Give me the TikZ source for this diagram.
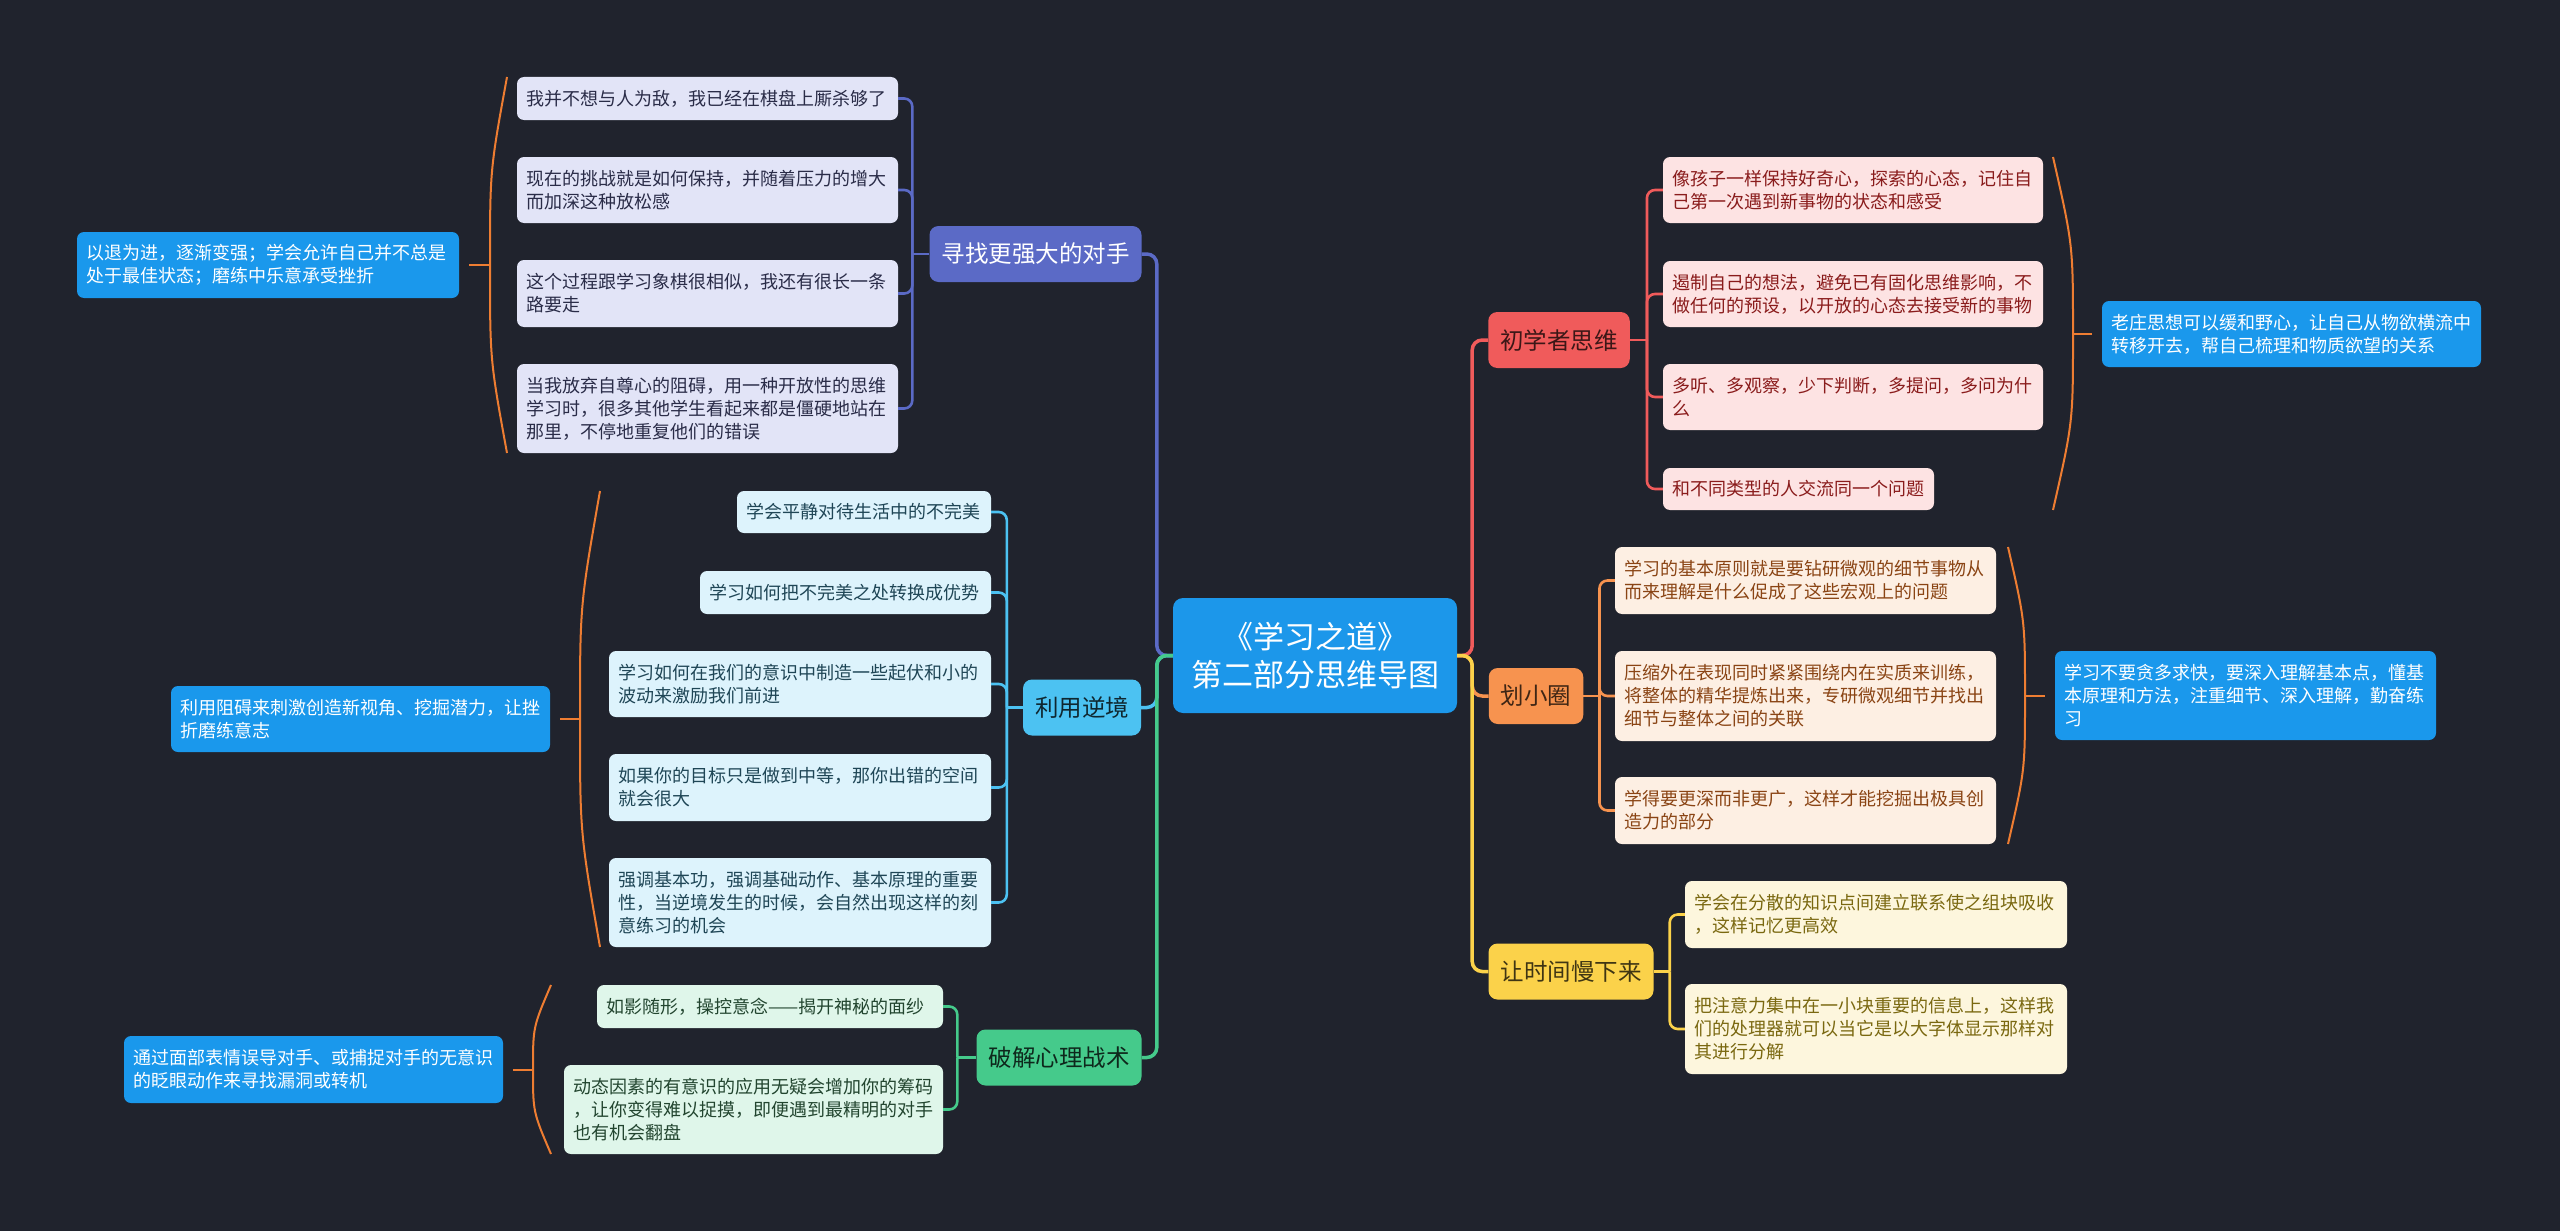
\documentclass[tikz,border=0pt]{standalone}
\usepackage{fontspec}
\newfontfamily\cjk{Noto Sans CJK SC}
\usetikzlibrary{calc}
\definecolor{bg}{HTML}{20232D}
\definecolor{mainblue}{HTML}{1C97EA}
\definecolor{sumblue}{HTML}{1A98EC}
\definecolor{indigo}{HTML}{5B6AC6}
\definecolor{sky}{HTML}{4CC2F2}
\definecolor{mint}{HTML}{45CA8B}
\definecolor{coral}{HTML}{F05B5B}
\definecolor{tang}{HTML}{F7934F}
\definecolor{gold}{HTML}{FBD24A}
\definecolor{braceor}{HTML}{EE7D32}
\definecolor{fA}{HTML}{E2E4F7}\definecolor{tA}{HTML}{2A2C48}
\definecolor{fB}{HTML}{DDF3FC}\definecolor{tB}{HTML}{1F4656}
\definecolor{fC}{HTML}{DFF6EA}\definecolor{tC}{HTML}{22452F}
\definecolor{fD}{HTML}{FDE3E3}\definecolor{tD}{HTML}{8A1C1C}
\definecolor{fE}{HTML}{FDEFE3}\definecolor{tE}{HTML}{8A4414}
\definecolor{fF}{HTML}{FDF6DD}\definecolor{tF}{HTML}{7A6810}
\begin{document}
\begin{tikzpicture}[x=1pt,y=-1pt,
  box/.style={rounded corners=7pt, inner xsep=9pt, inner ysep=0pt, align=left, font=\cjk\fontsize{18}{23}\selectfont},
  leafA/.style={box, fill=fA, text=tA},
  leafB/.style={box, fill=fB, text=tB},
  leafC/.style={box, fill=fC, text=tC},
  leafD/.style={box, fill=fD, text=tD},
  leafE/.style={box, fill=fE, text=tE},
  leafF/.style={box, fill=fF, text=tF},
  summ/.style={box, fill=sumblue, text=white},
  topic/.style={rounded corners=9pt, inner xsep=12pt, inner ysep=0pt, minimum height=56pt, font=\cjk\fontsize{23.5}{28}\selectfont},
  root/.style={rounded corners=10pt, fill=mainblue, text=white, align=center, minimum width=284pt, minimum height=115pt, inner sep=0pt, font=\cjk\fontsize{31}{38}\selectfont},
  trunk/.style={line width=3.5pt, rounded corners=10pt},
  twig/.style={line width=2.6pt, rounded corners=8pt},
  brace/.style={draw=braceor, line width=2pt},
]
\fill[bg] (0,0) rectangle (2560,1231);
\useasboundingbox (0,0) rectangle (2560,1231);

% root
\node[root] (C) at (1315,655.5) {《学习之道》\\第二部分思维导图};

% topics
\node[topic, fill=indigo, text=white, minimum width=209pt] (T1) at (1035.5,254) {寻找更强大的对手};
\node[topic, fill=sky, text=black!80!sky, minimum width=116pt] (T2) at (1082,707.5) {利用逆境};
\node[topic, fill=mint, text=black!80!mint, minimum width=162pt] (T3) at (1059,1057.5) {破解心理战术};
\node[topic, fill=coral, text=black!75!coral, minimum width=140pt] (T4) at (1559,340) {初学者思维};
\node[topic, fill=tang, text=black!75!tang, minimum width=94pt] (T5) at (1536,696) {划小圈};
\node[topic, fill=gold, text=black!75!gold, minimum width=164pt] (T6) at (1571,971.5) {让时间慢下来};

% T1 leaves
\node[leafA, text width=363pt, minimum height=43pt] (a1) at (707.5,98.5) {我并不想与人为敌，我已经在棋盘上厮杀够了};
\node[leafA, text width=363pt, minimum height=66pt] (a2) at (707.5,190) {现在的挑战就是如何保持，并随着压力的增大\\而加深这种放松感};
\node[leafA, text width=363pt, minimum height=67pt] (a3) at (707.5,293.5) {这个过程跟学习象棋很相似，我还有很长一条\\路要走};
\node[leafA, text width=363pt, minimum height=89pt] (a4) at (707.5,408.5) {当我放弃自尊心的阻碍，用一种开放性的思维\\学习时，很多其他学生看起来都是僵硬地站在\\那里，不停地重复他们的错误};

% T2 leaves
\node[leafB, text width=236pt, minimum height=42pt] (b1) at (864,512) {学会平静对待生活中的不完美};
\node[leafB, text width=273pt, minimum height=43pt] (b2) at (845.5,592.5) {学习如何把不完美之处转换成优势};
\node[leafB, text width=364pt, minimum height=66pt] (b3) at (800,684) {学习如何在我们的意识中制造一些起伏和小的\\波动来激励我们前进};
\node[leafB, text width=364pt, minimum height=67pt] (b4) at (800,787.5) {如果你的目标只是做到中等，那你出错的空间\\就会很大};
\node[leafB, text width=364pt, minimum height=89pt] (b5) at (800,902.5) {强调基本功，强调基础动作、基本原理的重要\\性，当逆境发生的时候，会自然出现这样的刻\\意练习的机会};

% T3 leaves
\node[leafC, text width=328pt, minimum height=43pt] (e1) at (770,1006.5) {如影随形，操控意念——揭开神秘的面纱};
\node[leafC, text width=361pt, minimum height=89pt] (e2) at (753.5,1109.5) {动态因素的有意识的应用无疑会增加你的筹码\\，让你变得难以捉摸，即便遇到最精明的对手\\也有机会翻盘};

% T4 leaves
\node[leafD, text width=362pt, minimum height=66pt] (f1) at (1853,190) {像孩子一样保持好奇心，探索的心态，记住自\\己第一次遇到新事物的状态和感受};
\node[leafD, text width=362pt, minimum height=66pt] (f2) at (1853,294) {遏制自己的想法，避免已有固化思维影响，不\\做任何的预设，以开放的心态去接受新的事物};
\node[leafD, text width=362pt, minimum height=66pt] (f3) at (1853,397) {多听、多观察，少下判断，多提问，多问为什\\么};
\node[leafD, text width=253pt, minimum height=42pt] (f4) at (1798.5,489) {和不同类型的人交流同一个问题};

% T5 leaves
\node[leafE, text width=363pt, minimum height=67pt] (g1) at (1805.5,580.5) {学习的基本原则就是要钻研微观的细节事物从\\而来理解是什么促成了这些宏观上的问题};
\node[leafE, text width=363pt, minimum height=90pt] (g2) at (1805.5,696) {压缩外在表现同时紧紧围绕内在实质来训练，\\将整体的精华提炼出来，专研微观细节并找出\\细节与整体之间的关联};
\node[leafE, text width=363pt, minimum height=67pt] (g3) at (1805.5,810.5) {学得要更深而非更广，这样才能挖掘出极具创\\造力的部分};

% T6 leaves
\node[leafF, text width=364pt, minimum height=67pt] (h1) at (1876,914.5) {学会在分散的知识点间建立联系使之组块吸收\\，这样记忆更高效};
\node[leafF, text width=364pt, minimum height=90pt] (h2) at (1876,1029) {把注意力集中在一小块重要的信息上，这样我\\们的处理器就可以当它是以大字体显示那样对\\其进行分解};

% summaries
\node[summ, text width=364pt, minimum height=66pt] (S1) at (268,265) {以退为进，逐渐变强；学会允许自己并不总是\\处于最佳状态；磨练中乐意承受挫折};
\node[summ, text width=361pt, minimum height=66pt] (S2) at (360.5,719) {利用阻碍来刺激创造新视角、挖掘潜力，让挫\\折磨练意志};
\node[summ, text width=361pt, minimum height=67pt] (S3) at (313.5,1069.5) {通过面部表情误导对手、或捕捉对手的无意识\\的眨眼动作来寻找漏洞或转机};
\node[summ, text width=361pt, minimum height=66pt] (S4) at (2291.5,334) {老庄思想可以缓和野心，让自己从物欲横流中\\转移开去，帮自己梳理和物质欲望的关系};
\node[summ, text width=363pt, minimum height=89pt] (S5) at (2245.5,695.5) {学习不要贪多求快，要深入理解基本点，懂基\\本原理和方法，注重细节、深入理解，勤奋练\\习};

% root to topics
\draw[trunk, indigo] (C.west) -- ++(-16,0) |- (T1.east);
\draw[trunk, sky] (C.west) -- ++(-16,0) |- (T2.east);
\draw[trunk, mint] (C.west) -- ++(-16,0) |- (T3.east);
\draw[trunk, coral] (C.east) -- ++(15,0) |- (T4.west);
\draw[trunk, tang] (C.east) -- ++(15,0) |- (T5.west);
\draw[trunk, gold] (C.east) -- ++(15,0) |- (T6.west);

% topics to leaves
\draw[twig, indigo] (T1.west) -- ++(-17,0) coordinate (j1);
\foreach \n in {a1,a2,a3,a4} \draw[twig, indigo] (j1) |- (\n.east);
\draw[twig, sky] (T2.west) -- ++(-16,0) coordinate (j2);
\foreach \n in {b1,b2,b3,b4,b5} \draw[twig, sky] (j2) |- (\n.east);
\draw[twig, mint] (T3.west) -- ++(-19,0) coordinate (j3);
\foreach \n in {e1,e2} \draw[twig, mint] (j3) |- (\n.east);
\draw[twig, coral] (T4.east) -- ++(17,0) coordinate (j4);
\foreach \n in {f1,f2,f3,f4} \draw[twig, coral] (j4) |- (\n.west);
\draw[twig, tang] (T5.east) -- ++(16,0) coordinate (j5);
\foreach \n in {g1,g2,g3} \draw[twig, tang] (j5) |- (\n.west);
\draw[twig, gold] (T6.east) -- ++(16,0) coordinate (j6);
\foreach \n in {h1,h2} \draw[twig, gold] (j6) |- (\n.west);

% braces
\draw[brace] (507,77) .. controls (490,170) .. (490,265) .. controls (490,360) .. (507,453);
\draw[brace] (490,265) -- ($(S1.east)+(10,0)$);
\draw[brace] (600,491) .. controls (580,605) .. (580,719) .. controls (580,833) .. (600,947);
\draw[brace] (580,719) -- ($(S2.east)+(10,0)$);
\draw[brace] (551,985) .. controls (533,1027) .. (533,1069.5) .. controls (533,1112) .. (551,1154);
\draw[brace] (533,1069.5) -- ($(S3.east)+(10,0)$);
\draw[brace] (2053,157) .. controls (2073,245) .. (2073,334) .. controls (2073,422) .. (2053,510);
\draw[brace] (2073,334) -- ($(S4.west)+(-10,0)$);
\draw[brace] (2008,547) .. controls (2025,621) .. (2025,696) .. controls (2025,770) .. (2008,844);
\draw[brace] (2025,695.5) -- ($(S5.west)+(-10,0)$);
\end{tikzpicture}
\end{document}
